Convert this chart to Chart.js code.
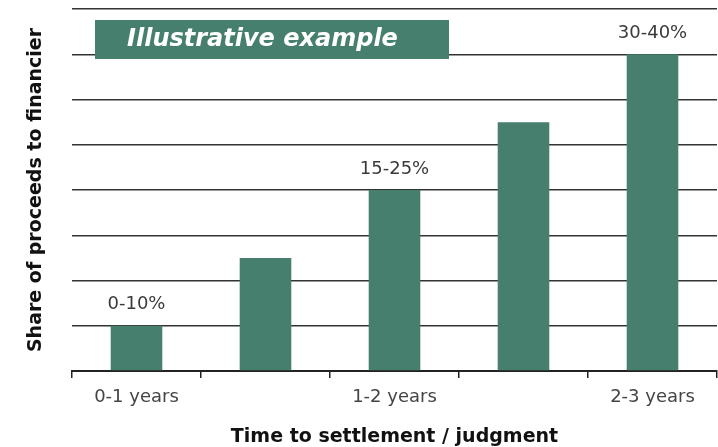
<!DOCTYPE html>
<html>
<head>
<meta charset="utf-8">
<script src="https://cdn.jsdelivr.net/npm/chart.js@4"></script>
<style>
  html, body { margin: 0; padding: 0; background: #fff; }
  #wrap { width: 718px; height: 447px; }
</style>
</head>
<body>
<div id="wrap"><canvas id="myChart" width="718" height="447"></canvas></div>
<script>
// data
const categorias = ["0-1 years", "", "1-2 years", "", "2-3 years"];
const valores = [1, 2.5, 4, 5.5, 7];
const etiquetas = ["0-10%", "", "15-25%", "", "30-40%"];
const yMax = 8;

const verde = '#477f6e';
const fuente = "'DejaVu Sans', 'Noto Sans', sans-serif";

// labels over the bars + "Illustrative example" box
const extras = {
    id: 'extras',
    afterDatasetsDraw(chart) {
        const ctx = chart.ctx;
        const meta = chart.getDatasetMeta(0);
        ctx.save();
        ctx.fillStyle = '#3a3a3a';
        ctx.font = "18px " + fuente;
        ctx.textAlign = 'center';
        ctx.textBaseline = 'middle';
        meta.data.forEach((bar, i) => {
            if (etiquetas[i]) ctx.fillText(etiquetas[i], bar.x, bar.y - 21);
        });
        // box
        ctx.fillStyle = verde;
        ctx.fillRect(95, 20, 354, 39);
        ctx.fillStyle = '#fff';
        ctx.font = "italic bold 24px " + fuente;
        ctx.textAlign = 'left';
        ctx.fillText('Illustrative example', 127, 40);
        ctx.restore();
    }
};

const ctx = document.getElementById('myChart').getContext('2d');
const myChart = new Chart(ctx, {
    type: 'bar',
    data: {
        labels: categorias,
        datasets: [{
            data: valores,
            backgroundColor: verde,
            borderWidth: 0,
            categoryPercentage: 1,
            barPercentage: 0.4
        }]
    },
    options: {
        responsive: false,
        animation: false,
        layout: { padding: { left: 25, right: 1, top: 9, bottom: 0 } },
        plugins: {
            legend: { display: false },
            tooltip: { enabled: false }
        },
        scales: {
            x: {
                grid: { drawOnChartArea: false, tickLength: 7, color: '#222', lineWidth: 1.5 },
                border: { color: '#222', width: 2 },
                ticks: { color: '#444', font: { family: fuente, size: 18 }, padding: 9, autoSkip: false, maxRotation: 0 },
                title: {
                    display: true,
                    text: 'Time to settlement / judgment',
                    color: '#111',
                    font: { family: fuente, size: 19, weight: 'bold' },
                    padding: { top: 16, bottom: -1 }
                },
                afterFit(scale) { scale.height = 76; }
            },
            y: {
                min: 0,
                max: yMax,
                ticks: { display: false, stepSize: 1 },
                grid: { color: '#333', lineWidth: 1.5, drawTicks: false },
                border: { display: false },
                title: {
                    display: true,
                    text: 'Share of proceeds to financier',
                    color: '#111',
                    font: { family: fuente, size: 19, weight: 'bold' },
                    padding: 0
                },
                afterFit(scale) { scale.width = 47; }
            }
        }
    },
    plugins: [extras]
});
</script>
</body>
</html>
